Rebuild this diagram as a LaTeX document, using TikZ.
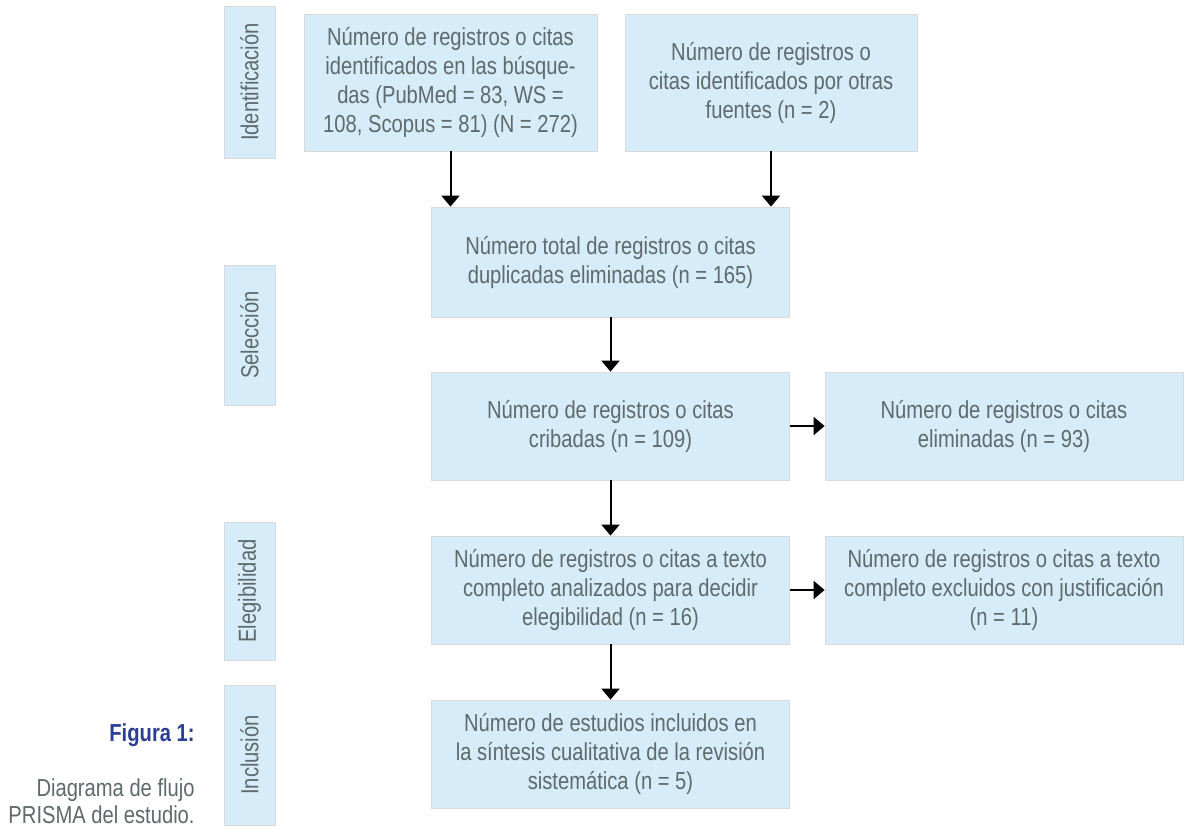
\documentclass[tikz,border=0pt]{standalone}
\usepackage{fontspec}
\setmainfont{Liberation Sans}[FakeStretch=0.82]
\usetikzlibrary{arrows.meta,positioning}
\definecolor{boxblue}{HTML}{D6ECF9}
\definecolor{boxline}{HTML}{DADADA}
\definecolor{txtgray}{HTML}{5E6A6B}
\definecolor{capblue}{HTML}{2B3E93}

\begin{document}
\begin{tikzpicture}[x=0.5pt,y=-0.5pt,>={Triangle[width=9pt,length=5.5pt]},node distance=82pt,on grid,
  box/.style={draw=boxline,fill=boxblue,text=txtgray,align=center,minimum width=179pt,minimum height=54pt,inner sep=0pt,font=\fontsize{12.3}{14.5}\selectfont,execute at begin node={\rule{0pt}{14pt}}},
  phase/.style={draw=boxline,fill=boxblue,text=txtgray,rotate=90,minimum height=25.5pt,inner sep=0pt,font=\fontsize{12.3}{14.5}\selectfont}]
  \useasboundingbox (0,0) rectangle (1185,827);
  \node[box,minimum height=55pt]  (total) at (610.5,262)                        {Número total de registros o citas\\duplicadas eliminadas (n = 165)};
  \node[box,minimum width=146.5pt,minimum height=68.5pt] (busq) [above left=89.75pt and 80pt of total]   {Número de registros o citas\\identificados en las búsque-\\das (PubMed = 83, WS =\\108, Scopus = 81) (N = 272)};
  \node[box,minimum width=146pt,minimum height=68.5pt]   (otras) [above right=89.75pt and 80.25pt of total] {Número de registros o\\citas identificados por otras\\fuentes (n = 2)};
  \node[box]                      (criba) [below =of total]                     {Número de registros o citas\\cribadas (n = 109)};
  \node[box]                      (elim)  [right=196.75pt of criba]             {Número de registros o citas\\eliminadas (n = 93)};
  \node[box]                      (texto) [below =of criba]                     {Número de registros o citas a texto\\completo analizados para decidir\\elegibilidad (n = 16)};
  \node[box]                      (excl)  [right=196.75pt of texto]             {Número de registros o citas a texto\\completo excluidos con justificación\\(n = 11)};
  \node[box]                      (incl)  [below =of texto]                     {Número de estudios incluidos en\\la síntesis cualitativa de la revisión\\sistemática (n = 5)};
  % fases
  \node[phase,minimum width=76pt] (ident) at (249.5,82)  {Identificación};
  \node[phase,minimum width=70pt] (selec) at (249.5,335) {Selección};
  \node[phase,minimum width=69pt] (eleg)  at (249.5,591) {Elegibilidad};
  \node[phase,minimum width=70pt] (inclu) at (249.5,755) {Inclusión};
  % pie
  \node[anchor=east,inner sep=0pt,text=capblue,font=\bfseries\fontsize{12.3}{14.5}\selectfont] (fig) at (195,735) {Figura 1:};
  \node[anchor=east,inner sep=0pt,align=right,text=txtgray,font=\fontsize{12.3}{13.5}\selectfont] (pie) at (195,801) {Diagrama de flujo\\PRISMA del estudio.};
\tikzset{flecha/.style={->,line width=1pt}}
\path
      (busq.south)  edge [flecha] (busq.south |- total.north)
      (otras.south) edge [flecha] (otras.south |- total.north)
      (total)       edge [flecha] (criba)
      (criba)       edge [flecha] (elim)
      (criba)       edge [flecha] (texto)
      (texto)       edge [flecha] (excl)
      (texto)       edge [flecha] (incl);
\end{tikzpicture}
\end{document}
